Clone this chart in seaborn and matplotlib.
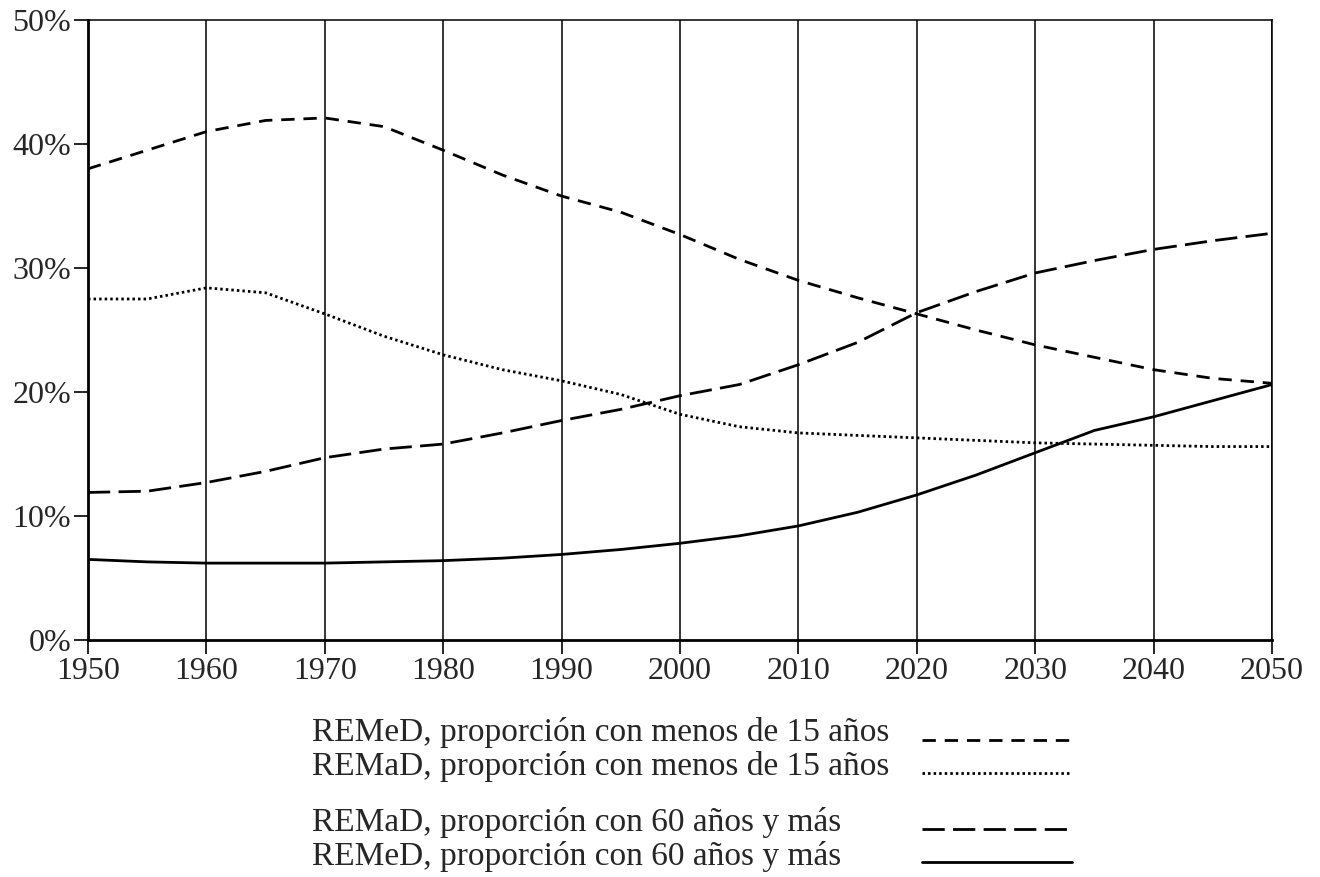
import numpy as np
import pandas as pd
import matplotlib
matplotlib.use("Agg")
import matplotlib.pyplot as plt
import seaborn as sns
from matplotlib.ticker import PercentFormatter
from matplotlib.lines import Line2D

years = [1950, 1955, 1960, 1965, 1970, 1975, 1980, 1985, 1990, 1995, 2000,
         2005, 2010, 2015, 2020, 2025, 2030, 2035, 2040, 2045, 2050]

# REMeD, menos de 15 años
remed_menos15 = [38.0, 39.5, 41.0, 41.9, 42.1, 41.4, 39.5, 37.5, 35.8, 34.5, 32.7,
                 30.7, 29.0, 27.6, 26.3, 25.0, 23.8, 22.8, 21.8, 21.1, 20.7]
# REMaD, menos de 15 años
remad_menos15 = [27.5, 27.5, 28.4, 28.0, 26.3, 24.5, 23.0, 21.8, 20.9, 19.8, 18.2,
                 17.2, 16.7, 16.5, 16.3, 16.1, 15.9, 15.8, 15.7, 15.6, 15.6]
# REMaD, 60 años y más
remad_60 = [11.9, 12.0, 12.7, 13.6, 14.7, 15.4, 15.8, 16.7, 17.7, 18.6, 19.7,
            20.6, 22.2, 24.0, 26.4, 28.1, 29.6, 30.6, 31.5, 32.2, 32.8]
# REMeD, 60 años y más
remed_60 = [6.5, 6.3, 6.2, 6.2, 6.2, 6.3, 6.4, 6.6, 6.9, 7.3, 7.8,
            8.4, 9.2, 10.3, 11.7, 13.3, 15.1, 16.9, 18.0, 19.3, 20.6]

labels = ["REMeD, proporción con menos de 15 años",
          "REMaD, proporción con menos de 15 años",
          "REMaD, proporción con 60 años y más",
          "REMeD, proporción con 60 años y más"]

styles = [(0, (4.8, 3.2)), (0, (0.9, 1.1)), (0, (8, 3)), "-"]
series = [remed_menos15, remad_menos15, remad_60, remed_60]

sns.set_style("white")
plt.rcParams['font.family'] = ['Liberation Serif', 'DejaVu Serif']

fig = plt.figure(figsize=(13.2, 8.77), dpi=100)
ax = fig.add_axes([88 / 1320, 1 - 640 / 877, (1272 - 88) / 1320, (640 - 20) / 877])

for vals, ls in zip(series, styles):
    sns.lineplot(x=years, y=vals, ax=ax, color="black", linewidth=2, linestyle=ls)

ax.set_xlim(1950, 2050)
ax.set_ylim(0, 50)
ax.set_xticks(range(1950, 2051, 10))
ax.set_yticks(range(0, 51, 10))
ax.yaxis.set_major_formatter(PercentFormatter(decimals=0))
ax.xaxis.grid(True, color="black", linewidth=1.1)
ax.yaxis.grid(False)
ax.tick_params(axis="both", direction="out", length=10, width=1.2, color="black",
               labelsize=23, pad=2, left=True, bottom=True)
for side in ["left", "bottom"]:
    ax.spines[side].set_linewidth(2)
    ax.spines[side].set_color("black")
for side in ["top", "right"]:
    ax.spines[side].set_linewidth(1.1)
    ax.spines[side].set_color("black")

# leyenda abajo a la derecha
text_y = [733, 767, 822, 856]
line_y = [740, 773, 829, 862]
for lab, ls, ty, ly in zip(labels, styles, text_y, line_y):
    fig.text(312 / 1320, 1 - ty / 877, lab, fontsize=24, va="center", ha="left")
    fig.add_artist(Line2D([922 / 1320, 1072 / 1320], [1 - ly / 877, 1 - ly / 877],
                          color="black", linewidth=2, linestyle=ls,
                          transform=fig.transFigure))

fig.savefig("out.png", dpi=100)
plt.close()
